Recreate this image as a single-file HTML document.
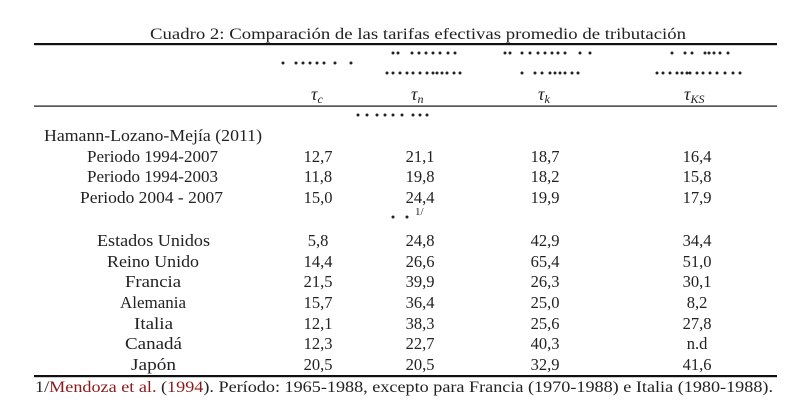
<!DOCTYPE html>
<html><head><meta charset="utf-8"><style>
html,body{margin:0;padding:0;background:#fff;}
svg{display:block;}
text{font-family:"Liberation Serif",serif;font-size:16.5px;fill:#222;}
.c{text-anchor:middle;}
</style></head><body>
<svg width="811" height="419" viewBox="0 0 811 419">
<text x="150" y="39" style="font-size:15.5px" textLength="536" lengthAdjust="spacingAndGlyphs">Cuadro 2: Comparación de las tarifas efectivas promedio de tributación</text>
<rect x="34" y="43" width="743" height="2.2" fill="#111"/>
<rect x="34" y="105.5" width="743" height="1.2" fill="#111"/>
<rect x="34" y="375" width="743" height="2.2" fill="#111"/>
<g fill="#222">
<g transform="translate(0,53)">
<circle cx="393" r="1.5"/><circle cx="398" r="1.5"/><circle cx="412" r="1.5"/><circle cx="419" r="1.5"/><circle cx="426" r="1.5"/><circle cx="433" r="1.5"/><circle cx="440" r="1.5"/><circle cx="448" r="1.5"/><circle cx="455" r="1.5"/>
<circle cx="505" r="1.5"/><circle cx="510" r="1.5"/><circle cx="522" r="1.5"/><circle cx="530" r="1.5"/><circle cx="538" r="1.5"/><circle cx="545" r="1.5"/><circle cx="552" r="1.5"/><circle cx="558" r="1.5"/><circle cx="565" r="1.5"/><circle cx="580" r="1.5"/><circle cx="590" r="1.5"/>
<circle cx="672" r="1.5"/><circle cx="685" r="1.5"/><circle cx="692" r="1.5"/><circle cx="705" r="1.5"/><circle cx="709" r="1.5"/><circle cx="714" r="1.5"/><circle cx="720" r="1.5"/><circle cx="728" r="1.5"/>
</g>
<g transform="translate(0,63)">
<circle cx="283" r="1.5"/><circle cx="296" r="1.5"/><circle cx="303" r="1.5"/><circle cx="310" r="1.5"/><circle cx="317" r="1.5"/><circle cx="324" r="1.5"/><circle cx="335" r="1.5"/><circle cx="351" r="1.5"/>
</g>
<g transform="translate(0,73)">
<circle cx="387" r="1.5"/><circle cx="393" r="1.5"/><circle cx="400" r="1.5"/><circle cx="407" r="1.5"/><circle cx="413" r="1.5"/><circle cx="420" r="1.5"/><circle cx="427" r="1.5"/><circle cx="433" r="1.5"/><circle cx="437" r="1.5"/><circle cx="442" r="1.5"/><circle cx="447" r="1.5"/><circle cx="454" r="1.5"/><circle cx="460" r="1.5"/>
<circle cx="522" r="1.5"/><circle cx="535" r="1.5"/><circle cx="542" r="1.5"/><circle cx="550" r="1.5"/><circle cx="555" r="1.5"/><circle cx="560" r="1.5"/><circle cx="565" r="1.5"/><circle cx="572" r="1.5"/><circle cx="578" r="1.5"/>
<circle cx="657" r="1.5"/><circle cx="663" r="1.5"/><circle cx="670" r="1.5"/><circle cx="677" r="1.5"/><circle cx="682" r="1.5"/><circle cx="687" r="1.5"/><circle cx="690" r="1.5"/><circle cx="697" r="1.5"/><circle cx="703" r="1.5"/><circle cx="710" r="1.5"/><circle cx="717" r="1.5"/><circle cx="725" r="1.5"/><circle cx="733" r="1.5"/><circle cx="740" r="1.5"/>
</g>
<g transform="translate(0,115)">
<circle cx="358" r="1.5"/><circle cx="367" r="1.5"/><circle cx="377" r="1.5"/><circle cx="385" r="1.5"/><circle cx="393" r="1.5"/><circle cx="402" r="1.5"/><circle cx="413" r="1.5"/><circle cx="420" r="1.5"/><circle cx="427" r="1.5"/>
</g>
<circle cx="393" cy="217" r="1.5"/><circle cx="407" cy="217" r="1.5"/>
</g>
<text x="415" y="215" style="font-size:11px">1/</text>
<text x="311" y="100" style="font-style:italic;font-size:18px">τ<tspan dy="3" style="font-size:12px">c</tspan></text>
<text x="411" y="100" style="font-style:italic;font-size:18px">τ<tspan dy="3" style="font-size:12px">n</tspan></text>
<text x="538" y="100" style="font-style:italic;font-size:18px">τ<tspan dy="3" style="font-size:12px">k</tspan></text>
<text x="684" y="100" style="font-style:italic;font-size:18px">τ<tspan dy="3" style="font-size:12px">KS</tspan></text>
<text x="44" y="141" textLength="218" lengthAdjust="spacingAndGlyphs">Hamann-Lozano-Mejía (2011)</text>
<text x="87" y="162" textLength="131" lengthAdjust="spacingAndGlyphs">Periodo 1994-2007</text>
<text x="87" y="182" textLength="131" lengthAdjust="spacingAndGlyphs">Periodo 1994-2003</text>
<text x="80" y="203" textLength="143" lengthAdjust="spacingAndGlyphs">Periodo 2004 - 2007</text>
<text x="97" y="246" textLength="113" lengthAdjust="spacingAndGlyphs">Estados Unidos</text>
<text x="107" y="267" textLength="92" lengthAdjust="spacingAndGlyphs">Reino Unido</text>
<text x="125" y="287" textLength="56" lengthAdjust="spacingAndGlyphs">Francia</text>
<text x="120" y="308" textLength="66" lengthAdjust="spacingAndGlyphs">Alemania</text>
<text x="134" y="329" textLength="39" lengthAdjust="spacingAndGlyphs">Italia</text>
<text x="125" y="349" textLength="57" lengthAdjust="spacingAndGlyphs">Canadá</text>
<text x="131" y="370" textLength="45" lengthAdjust="spacingAndGlyphs">Japón</text>
<g>
<text x="318" y="162" class="c">12,7</text><text x="420" y="162" class="c">21,1</text><text x="545" y="162" class="c">18,7</text><text x="697" y="162" class="c">16,4</text>
<text x="318" y="182" class="c">11,8</text><text x="420" y="182" class="c">19,8</text><text x="545" y="182" class="c">18,2</text><text x="697" y="182" class="c">15,8</text>
<text x="318" y="203" class="c">15,0</text><text x="420" y="203" class="c">24,4</text><text x="545" y="203" class="c">19,9</text><text x="697" y="203" class="c">17,9</text>
<text x="318" y="246" class="c">5,8</text><text x="420" y="246" class="c">24,8</text><text x="545" y="246" class="c">42,9</text><text x="697" y="246" class="c">34,4</text>
<text x="318" y="267" class="c">14,4</text><text x="420" y="267" class="c">26,6</text><text x="545" y="267" class="c">65,4</text><text x="697" y="267" class="c">51,0</text>
<text x="318" y="287" class="c">21,5</text><text x="420" y="287" class="c">39,9</text><text x="545" y="287" class="c">26,3</text><text x="697" y="287" class="c">30,1</text>
<text x="318" y="308" class="c">15,7</text><text x="420" y="308" class="c">36,4</text><text x="545" y="308" class="c">25,0</text><text x="697" y="308" class="c">8,2</text>
<text x="318" y="329" class="c">12,1</text><text x="420" y="329" class="c">38,3</text><text x="545" y="329" class="c">25,6</text><text x="697" y="329" class="c">27,8</text>
<text x="318" y="349" class="c">12,3</text><text x="420" y="349" class="c">22,7</text><text x="545" y="349" class="c">40,3</text><text x="697" y="349" class="c">n.d</text>
<text x="318" y="370" class="c">20,5</text><text x="420" y="370" class="c">20,5</text><text x="545" y="370" class="c">32,9</text><text x="697" y="370" class="c">41,6</text>
</g>
<text x="35" y="392" style="font-size:16px" textLength="738" lengthAdjust="spacingAndGlyphs">1/<tspan fill="#8b1a1a">Mendoza et al.</tspan> (<tspan fill="#8b1a1a">1994</tspan>). Período: 1965-1988, excepto para Francia (1970-1988) e Italia (1980-1988).</text>
</svg>
</body></html>
